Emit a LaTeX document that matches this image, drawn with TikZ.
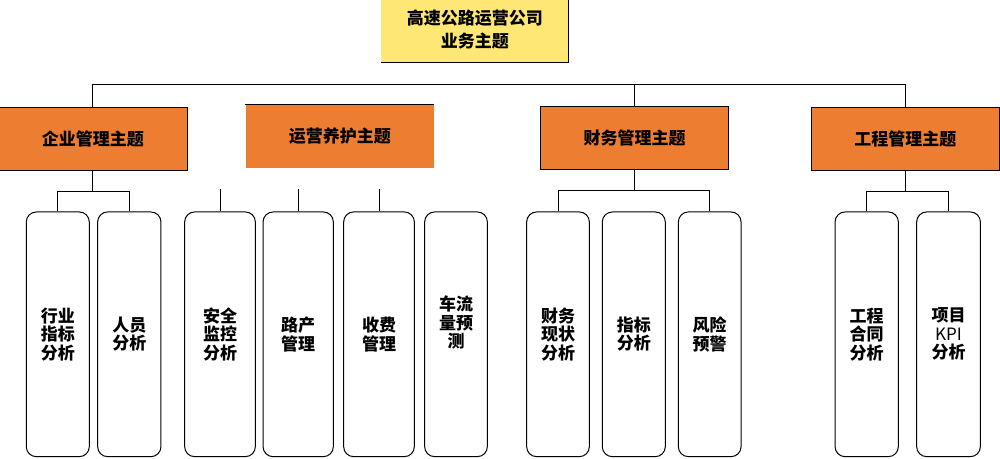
\documentclass[tikz,border=0pt]{standalone}
\usepackage{fontspec}
\setmainfont{Noto Sans CJK SC}

\definecolor{topyellow}{HTML}{FFE775}
\definecolor{themeorange}{HTML}{ED7D31}

\tikzset{
    root/.style={fill=topyellow, minimum width=187.7pt, minimum height=65.3pt, inner sep=0pt, align=center, font=\bfseries\fontsize{17}{23.5}\selectfont},
    theme/.style={fill=themeorange, line width=1pt, minimum height=63pt, inner sep=0pt, font=\bfseries\fontsize{17}{20}\selectfont},
    leaf/.style={draw, line width=1pt, rounded corners=10pt, minimum height=244.7pt, inner sep=0pt, align=center, font=\bfseries\fontsize{17}{18.5}\selectfont},
    link/.style={line width=1pt},
}

\begin{document}
\begin{tikzpicture}[x=1pt, y=1pt]
    \useasboundingbox (0, 0) rectangle (1000, -458);

    % root
    \node[root] (root) at (474.8, -29.6) {高速公路运营公司\\业务主题};
    \draw[link] (root.north east) -- (root.south east) -- (root.south west);

    % themes
    \node[theme, draw, minimum width=189.7pt] (qy) at (92.8, -138.8) {企业管理主题};
    \node[theme, minimum width=187.7pt, minimum height=62.4pt] (yy) at (339.8, -136.5) {运营养护主题};
    \draw[link] (yy.north west) -- (yy.north east);
    \node[theme, draw, minimum width=188.4pt] (cw) at (634.5, -137.8) {财务管理主题};
    \node[theme, draw, minimum width=188pt] (gc) at (905.3, -138.8) {工程管理主题};

    % bus
    \coordinate (bus) at (0, -84.3);
    \draw[link] (qy.north) -- (qy.north |- bus) -- (gc.north |- bus) -- (gc.north);
    \draw[link] (cw.north) -- (cw.north |- bus);

    % leaves
    \node[leaf, minimum width=63pt] (hyfx) at (57.8, -334.3) {行业\\指标\\分析};
    \node[leaf, minimum width=63.3pt] (ryfx) at (129.3, -334.3) {人员\\分析};
    \node[leaf, minimum width=70.7pt] (aqjk) at (220, -334.3) {安全\\监控\\分析};
    \node[leaf, minimum width=70.3pt] (lcgl) at (298.2, -334.3) {路产\\管理};
    \node[leaf, minimum width=70.7pt] (sfgl) at (379, -334.3) {收费\\管理};
    \node[leaf, minimum width=62.7pt] (clyc) at (456, -334.3) {车流\\量预\\测\\[6pt]};
    \node[leaf, minimum width=62.7pt] (cwxz) at (558, -334.3) {财务\\现状\\分析};
    \node[leaf, minimum width=63pt] (zbfx) at (633.8, -334.3) {指标\\分析};
    \node[leaf, minimum width=62.7pt] (fxyj) at (709.7, -334.3) {风险\\预警};
    \node[leaf, minimum width=63.3pt] (htfx) at (866.7, -334.3) {工程\\合同\\分析};
    \node[leaf, minimum width=63.7pt] (kpi) at (948.5, -334.3) {项目\\\mdseries KPI\\分析};

    % links to leaves
    \draw[link] (qy.south) -- ++(0, -21) coordinate (qyb);
    \draw[link] (hyfx.north) |- (qyb) -| (ryfx.north);
    \draw[link] (cw.south) -- ++(0, -21) coordinate (cwb);
    \draw[link] (cwxz.north) |- (cwb) -| (fxyj.north);
    \draw[link] (gc.south) -- ++(0, -21) coordinate (gcb);
    \draw[link] (htfx.north) |- (gcb) -| (kpi.north);
    \foreach \n in {aqjk, lcgl, sfgl} {
        \draw[link] (\n.north) -- ++(0, 22);
    }
\end{tikzpicture}
\end{document}
